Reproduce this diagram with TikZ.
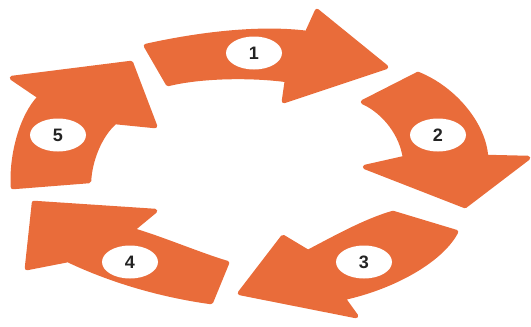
\documentclass[tikz,border=0pt]{standalone}
\usepackage{fontspec}
\setmainfont{Liberation Sans}
\definecolor{orng}{RGB}{233,108,58}
\definecolor{numcol}{RGB}{35,35,35}
\tikzset{
  cyclearrow/.style={fill=orng, draw=orng, line width=4.5pt, line join=round},
  badge/.style={ellipse, fill=white, minimum width=56pt, minimum height=33pt, inner sep=0pt,
    text=numcol, font=\fontsize{18}{18}\selectfont\bfseries}
}
\usetikzlibrary{shapes.geometric}
\begin{document}
\begin{tikzpicture}[x=1pt,y=-1pt]
\useasboundingbox (0,0) rectangle (531,327);
% Arrow 1
\path[cyclearrow] (146,46) .. controls (200,34) and (260,27) .. (307,33)
  -- (317,11) -- (386,67) -- (284,101) -- (287,80)
  .. controls (250,75) and (200,76) .. (168,84) -- cycle;
% Arrow 2
\path[cyclearrow] (418,74) .. controls (455,89) and (484,125) .. (486,157)
  -- (528,158) -- (465,206) -- (365,167) -- (405,158)
  .. controls (402,135) and (385,112) .. (363,102) -- cycle;
% Arrow 3
\path[cyclearrow] (393,213) -- (456,232)
  .. controls (440,262) and (390,288) .. (343,298)
  -- (356,316) -- (240,293) -- (283,237) -- (308,252)
  .. controls (335,238) and (365,221) .. (393,213) -- cycle;
% Arrow 4
\path[cyclearrow] (227,263) .. controls (200,255) and (160,238) .. (132,230)
  -- (155,211) -- (34,203) -- (27,268) -- (68,260)
  .. controls (110,280) and (160,295) .. (211,302) -- cycle;
% Arrow 5
\path[cyclearrow] (13,187) .. controls (11,155) and (22,115) .. (40,97)
  -- (12,78) -- (131,63) -- (155,126) -- (115,122)
  .. controls (100,135) and (90,160) .. (89,181) -- cycle;
% Badges
\node[badge] (b1) at (254,53) {1};
\node[badge] (b2) at (438,135) {2};
\node[badge] (b3) at (364,262) {3};
\node[badge] (b4) at (130,262) {4};
\node[badge] (b5) at (58,135) {5};
\end{tikzpicture}
\end{document}
